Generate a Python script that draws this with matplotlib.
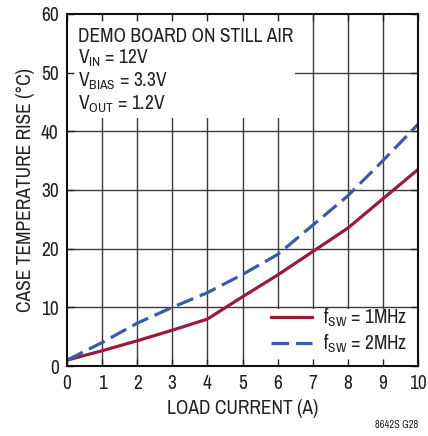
import matplotlib
matplotlib.use("Agg")
import matplotlib.pyplot as plt
from matplotlib.patches import Rectangle

FONT = ['Archivo Narrow', 'DejaVu Sans']
plt.rcParams['font.family'] = FONT
plt.rcParams['mathtext.fontset'] = 'custom'
plt.rcParams['mathtext.rm'] = 'Archivo Narrow'
plt.rcParams['mathtext.it'] = 'Archivo Narrow'
plt.rcParams['mathtext.bf'] = 'Archivo Narrow'
plt.rcParams['mathtext.default'] = 'regular'

load_current = [0, 1, 2, 3, 4, 5, 6, 7, 8, 9, 10]
rise_1mhz = [1.0, 2.6, 4.3, 6.1, 8.0, 11.8, 15.5, 19.5, 23.5, 28.5, 33.5]
rise_2mhz = [1.0, 4.0, 7.3, 10.0, 12.5, 15.6, 19.0, 24.0, 29.0, 35.0, 41.2]
x_ticks = [0, 1, 2, 3, 4, 5, 6, 7, 8, 9, 10]
y_ticks = [0, 10, 20, 30, 40, 50, 60]

RED = '#9a1a3c'
BLUE = '#3a5ba8'
GRID = '#3a3a3a'
TXT = '#222222'

fig = plt.figure(figsize=(4.28, 4.36), dpi=100)
ax = fig.add_axes([67/428, 1-366/436, 351/428, 352/436])
ax.set_xlim(0, 10)
ax.set_ylim(0, 60)

for xv in x_ticks[1:-1]:
    ax.axvline(xv, color=GRID, lw=1.0, zorder=0.5)
for yv in y_ticks[1:-1]:
    ax.axhline(yv, color=GRID, lw=1.0, zorder=0.5)

ax.add_patch(Rectangle((0, 42.3), 6.5, 17.7, facecolor='white', edgecolor='none', zorder=1))
ax.add_patch(Rectangle((5.45, 0), 4.55, 9.8, facecolor='white', edgecolor='none', zorder=1))

ax.plot(load_current, rise_1mhz, color=RED, lw=2.3, zorder=2, label=r'f$_{SW}$ = 1MHz')
ax.plot(load_current, rise_2mhz, color=BLUE, lw=2.3, zorder=2, dashes=(5.5, 2.2),
        label=r'f$_{SW}$ = 2MHz')

ax.set_xticks(x_ticks)
ax.set_yticks(y_ticks)
ax.tick_params(direction='in', length=5, width=1, top=True, right=True,
               labelsize=14, colors=TXT, pad=6)
for s in ax.spines.values():
    s.set_linewidth(1.5)
    s.set_color('#111111')

ax.set_xlabel('LOAD CURRENT (A)', fontsize=14, color=TXT, labelpad=4)
ax.set_ylabel('CASE TEMPERATURE RISE (°C)', fontsize=14, color=TXT, labelpad=4)

ax.text(0.3, 57.8, 'DEMO BOARD ON STILL AIR\n' + r'V$_{IN}$ = 12V' + '\n' +
        r'V$_{BIAS}$ = 3.3V' + '\n' + r'V$_{OUT}$ = 1.2V',
        fontsize=14, color=TXT, va='top', ha='left', linespacing=1.1, zorder=3)

leg = ax.legend(loc='lower right', frameon=False, fontsize=14, handlelength=2.1,
                handletextpad=0.55, labelspacing=0.2, borderaxespad=0.15)
for t in leg.get_texts():
    t.set_color(TXT)
leg.set_zorder(3)

fig.text(418/428, 1-425/436, '8642S G28', fontsize=7.5, ha='right', va='center', color=TXT)

fig.savefig('out.png', dpi=100)
